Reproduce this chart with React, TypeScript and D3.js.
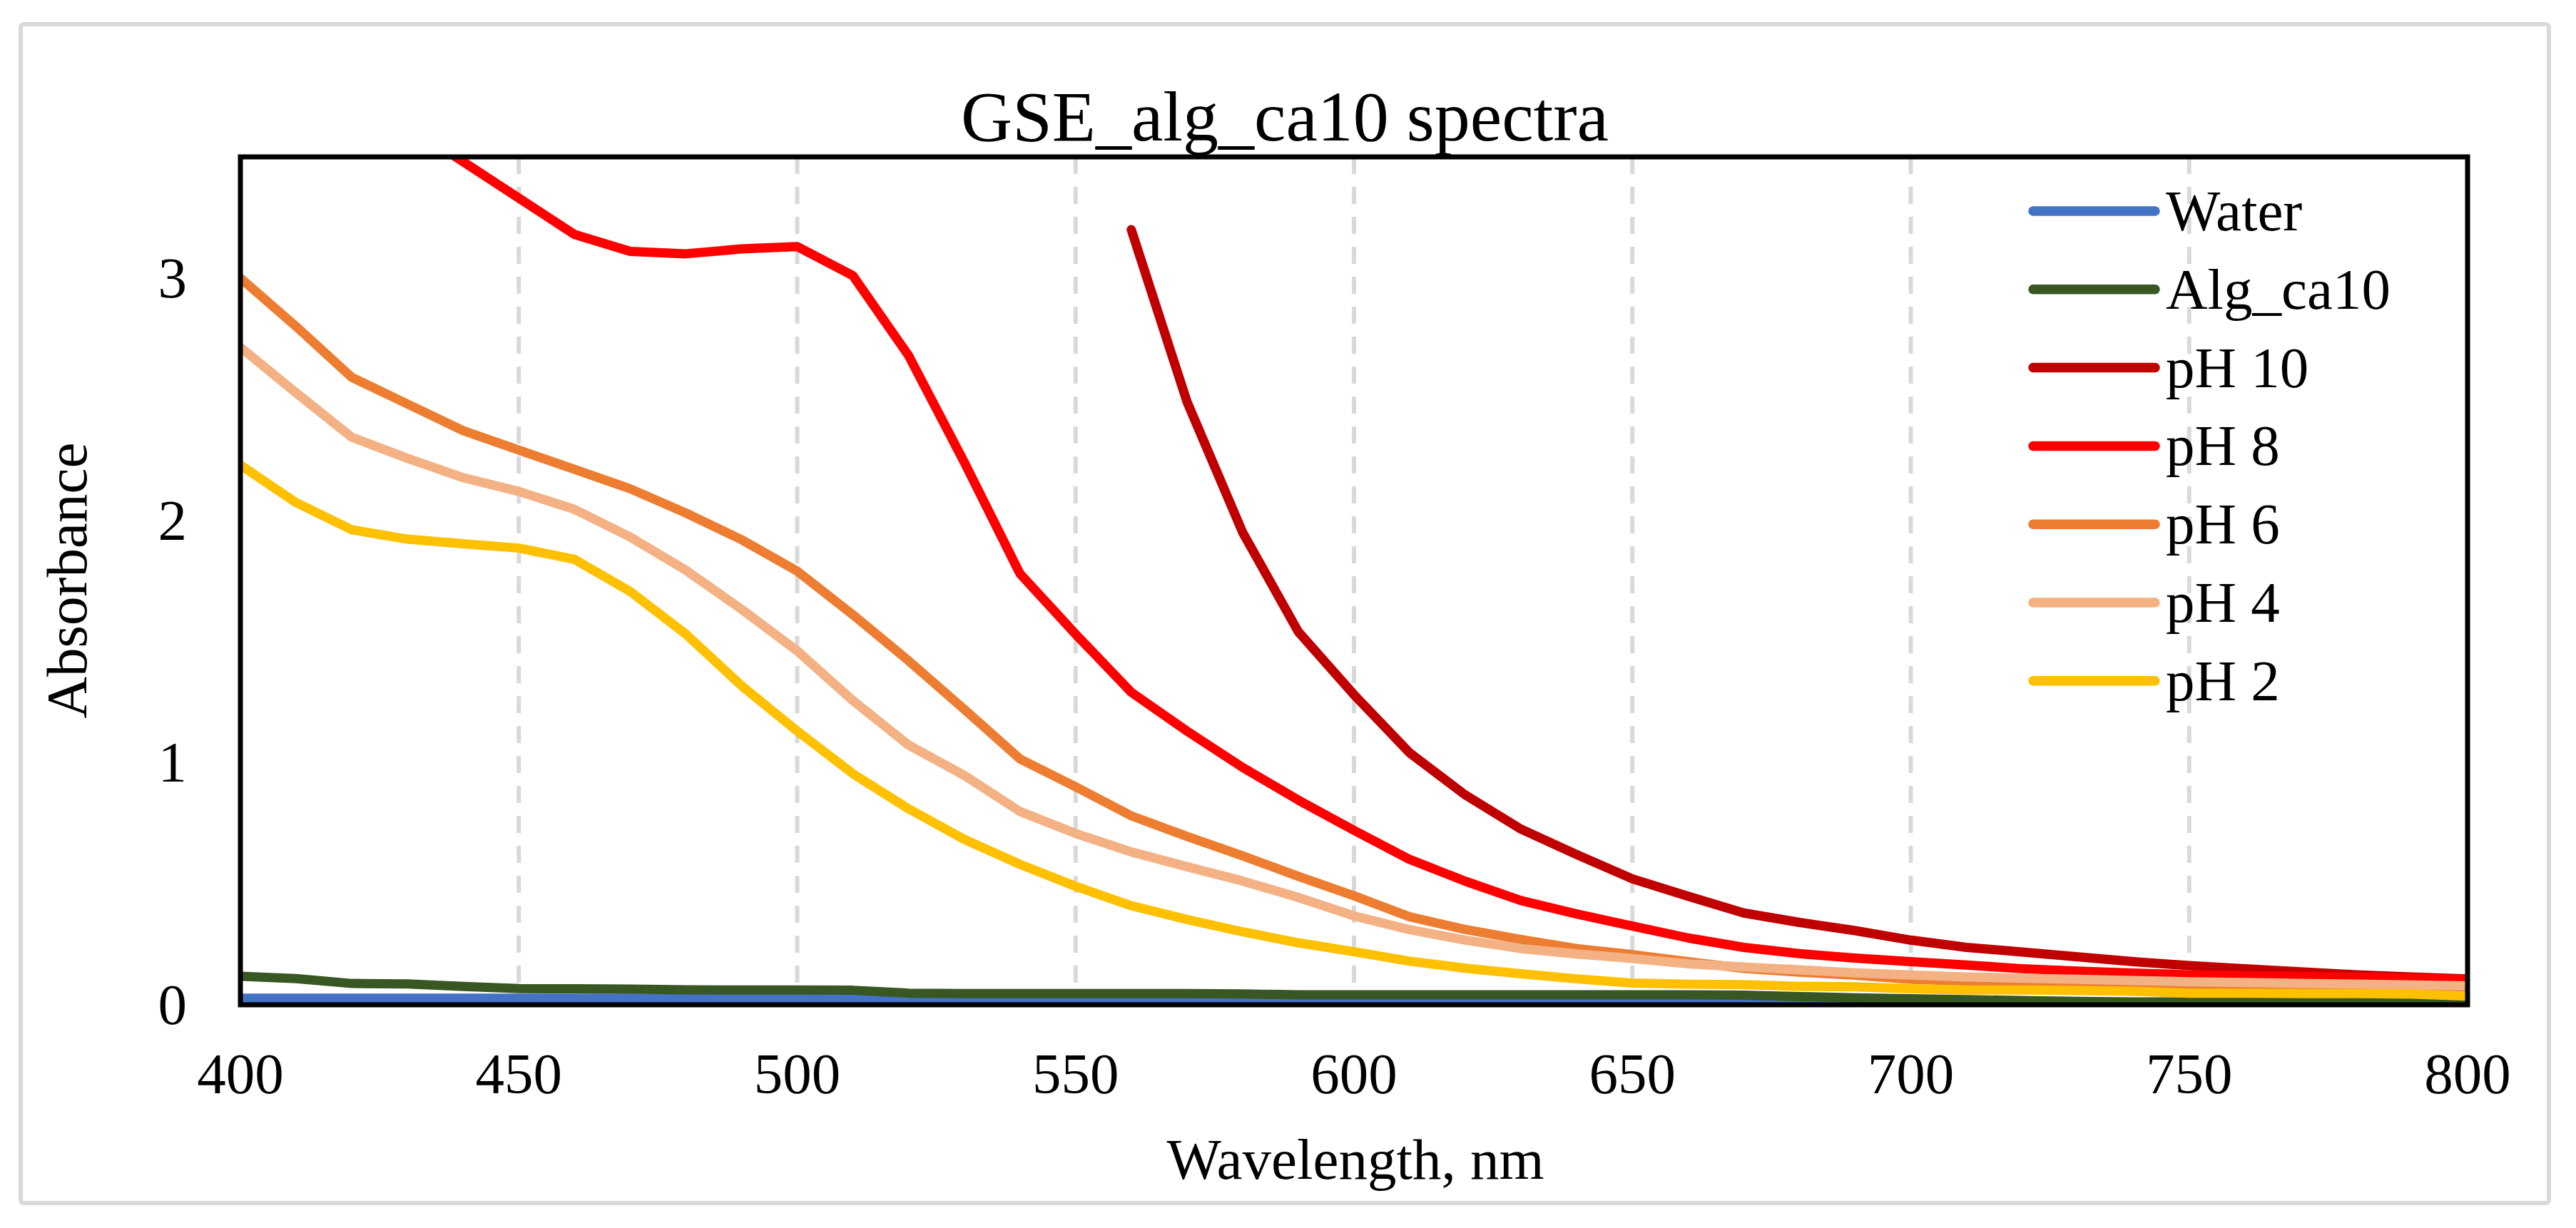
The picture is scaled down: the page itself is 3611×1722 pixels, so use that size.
import React, { useEffect } from "react";
import * as d3 from "d3";

const wavelengths = [400, 410, 420, 430, 440, 450, 460, 470, 480, 490, 500, 510, 520, 530, 540, 550, 560, 570, 580, 590, 600, 610, 620, 630, 640, 650, 660, 670, 680, 690, 700, 710, 720, 730, 740, 750, 760, 770, 780, 790, 800];

const water = [0.027, 0.027, 0.027, 0.027, 0.027, 0.027, 0.027, 0.027, 0.027, 0.027, 0.027, 0.027, 0.027, 0.025, 0.025, 0.025, 0.025, 0.025, 0.025, 0.025, 0.025, 0.02, 0.02, 0.02, 0.02, 0.02, 0.02, 0.02, 0.02, 0.015, 0.015, 0.015, 0.015, 0.008, 0.008, 0.007, 0.007, 0.007, 0.006, 0.006, 0.006];
const algCa10 = [0.118, 0.108, 0.088, 0.086, 0.076, 0.067, 0.066, 0.065, 0.062, 0.061, 0.061, 0.06, 0.048, 0.046, 0.046, 0.046, 0.046, 0.046, 0.045, 0.041, 0.041, 0.041, 0.041, 0.041, 0.041, 0.041, 0.041, 0.04, 0.034, 0.029, 0.025, 0.021, 0.018, 0.014, 0.012, 0.012, 0.012, 0.012, 0.012, 0.011, 0.01];
const pH10 = [null, null, null, null, null, null, null, null, null, null, null, null, null, null, null, null, 3.2, 2.49, 1.95, 1.54, 1.28, 1.04, 0.866, 0.725, 0.62, 0.52, 0.448, 0.379, 0.34, 0.306, 0.267, 0.237, 0.218, 0.198, 0.178, 0.162, 0.149, 0.136, 0.124, 0.115, 0.107];
const pH8 = [null, null, null, 3.63, 3.48, 3.33, 3.18, 3.11, 3.1, 3.12, 3.13, 3.01, 2.68, 2.24, 1.78, 1.53, 1.29, 1.13, 0.98, 0.845, 0.72, 0.6, 0.51, 0.43, 0.375, 0.325, 0.276, 0.237, 0.211, 0.193, 0.178, 0.164, 0.149, 0.139, 0.131, 0.124, 0.12, 0.117, 0.114, 0.11, 0.105];
const pH6 = [3.0, 2.8, 2.59, 2.48, 2.37, 2.29, 2.21, 2.13, 2.03, 1.92, 1.79, 1.61, 1.42, 1.22, 1.015, 0.9, 0.78, 0.695, 0.615, 0.53, 0.45, 0.363, 0.311, 0.27, 0.232, 0.207, 0.178, 0.15, 0.135, 0.122, 0.105, 0.098, 0.093, 0.089, 0.085, 0.082, 0.08, 0.078, 0.076, 0.074, 0.072];
const pH4 = [2.714, 2.526, 2.343, 2.256, 2.176, 2.119, 2.045, 1.931, 1.794, 1.633, 1.461, 1.256, 1.072, 0.947, 0.798, 0.707, 0.631, 0.57, 0.511, 0.443, 0.367, 0.31, 0.267, 0.232, 0.21, 0.191, 0.169, 0.156, 0.144, 0.132, 0.123, 0.115, 0.11, 0.105, 0.1, 0.095, 0.092, 0.088, 0.085, 0.082, 0.078];
const pH2 = [2.228, 2.073, 1.961, 1.922, 1.903, 1.885, 1.839, 1.706, 1.53, 1.317, 1.13, 0.954, 0.809, 0.683, 0.58, 0.489, 0.409, 0.352, 0.301, 0.256, 0.219, 0.18, 0.151, 0.128, 0.107, 0.09, 0.085, 0.083, 0.076, 0.074, 0.066, 0.061, 0.061, 0.059, 0.056, 0.048, 0.048, 0.046, 0.046, 0.044, 0.036];

const seriesNames = ["Water", "Alg_ca10", "pH 10", "pH 8", "pH 6", "pH 4", "pH 2"];
const seriesValues = [water, algCa10, pH10, pH8, pH6, pH4, pH2];
const seriesColors = ["#4472C4", "#385723", "#C00000", "#FF0000", "#ED7D31", "#F4B183", "#FFC000"];

const xTicks = [400, 450, 500, 550, 600, 650, 700, 750, 800];
const xGrid = [450, 500, 550, 600, 650, 700, 750];
const yTicks = [0, 1, 2, 3];

const FONT = "'Liberation Serif', 'Times New Roman', serif";

export default function App() {
  useEffect(() => {
    document.body.style.margin = "0";
  }, []);

  const W = 3611;
  const H = 1722;
  const left = 337, right = 3459, top = 220, bottom = 1409;
  const x = d3.scaleLinear().domain([400, 800]).range([left, right]);
  const y = d3.scaleLinear().domain([0, 3.5]).range([bottom, top]);

  const line = d3
    .line<[number, number | null]>()
    .defined((d) => d[1] !== null)
    .x((d) => x(d[0]))
    .y((d) => y(d[1] as number));

  const legendX1 = 2850, legendX2 = 3021, legendTextX = 3036, legendY0 = 296, legendDy = 109.8;

  return (
    <svg width={W} height={H} style={{ position: "absolute", left: 0, top: 0, background: "#fff" }} fontFamily={FONT}>
      <defs>
        <clipPath id="plotClip">
          <rect x={left} y={top} width={right - left} height={bottom - top} />
        </clipPath>
      </defs>
      <rect x={0} y={0} width={W} height={H} fill="#fff" />
      <rect x={29} y={34} width={3544} height={1653} rx={4} fill="#fff" stroke="#d9d9d9" strokeWidth={6} />

      <text x={1801} y={197} fontSize={100} textAnchor="middle" fill="#000">GSE_alg_ca10 spectra</text>

      {xGrid.map((v) => (
        <line key={v} x1={x(v)} x2={x(v)} y1={top} y2={bottom} stroke="#d9d9d9" strokeWidth={6} strokeDasharray="24,18" />
      ))}

      <g clipPath="url(#plotClip)">
        {seriesValues.map((vals, i) => (
          <path
            key={seriesNames[i]}
            d={line(wavelengths.map((w, k) => [w, vals[k]] as [number, number | null])) || ""}
            fill="none"
            stroke={seriesColors[i]}
            strokeWidth={13}
            strokeLinejoin="round"
            strokeLinecap="round"
          />
        ))}
      </g>

      <rect x={left} y={top} width={right - left} height={bottom - top} fill="none" stroke="#000" strokeWidth={7} />

      {xTicks.map((v) => (
        <text key={v} x={x(v)} y={1533} fontSize={81} textAnchor="middle" fill="#000">{v}</text>
      ))}
      {yTicks.map((v) => (
        <text key={v} x={262} y={y(v) + 27} fontSize={81} textAnchor="end" fill="#000">{v}</text>
      ))}

      <text x={1900} y={1653} fontSize={81} textAnchor="middle" fill="#000">Wavelength, nm</text>
      <text transform="translate(121,814) rotate(-90)" fontSize={81} textAnchor="middle" fill="#000">Absorbance</text>

      {seriesNames.map((name, i) => {
        const cy = legendY0 + i * legendDy;
        return (
          <g key={name}>
            <line x1={legendX1} x2={legendX2} y1={cy} y2={cy} stroke={seriesColors[i]} strokeWidth={13.5} strokeLinecap="round" />
            <text x={legendTextX} y={cy + 27} fontSize={81} fill="#000">{name}</text>
          </g>
        );
      })}
    </svg>
  );
}
